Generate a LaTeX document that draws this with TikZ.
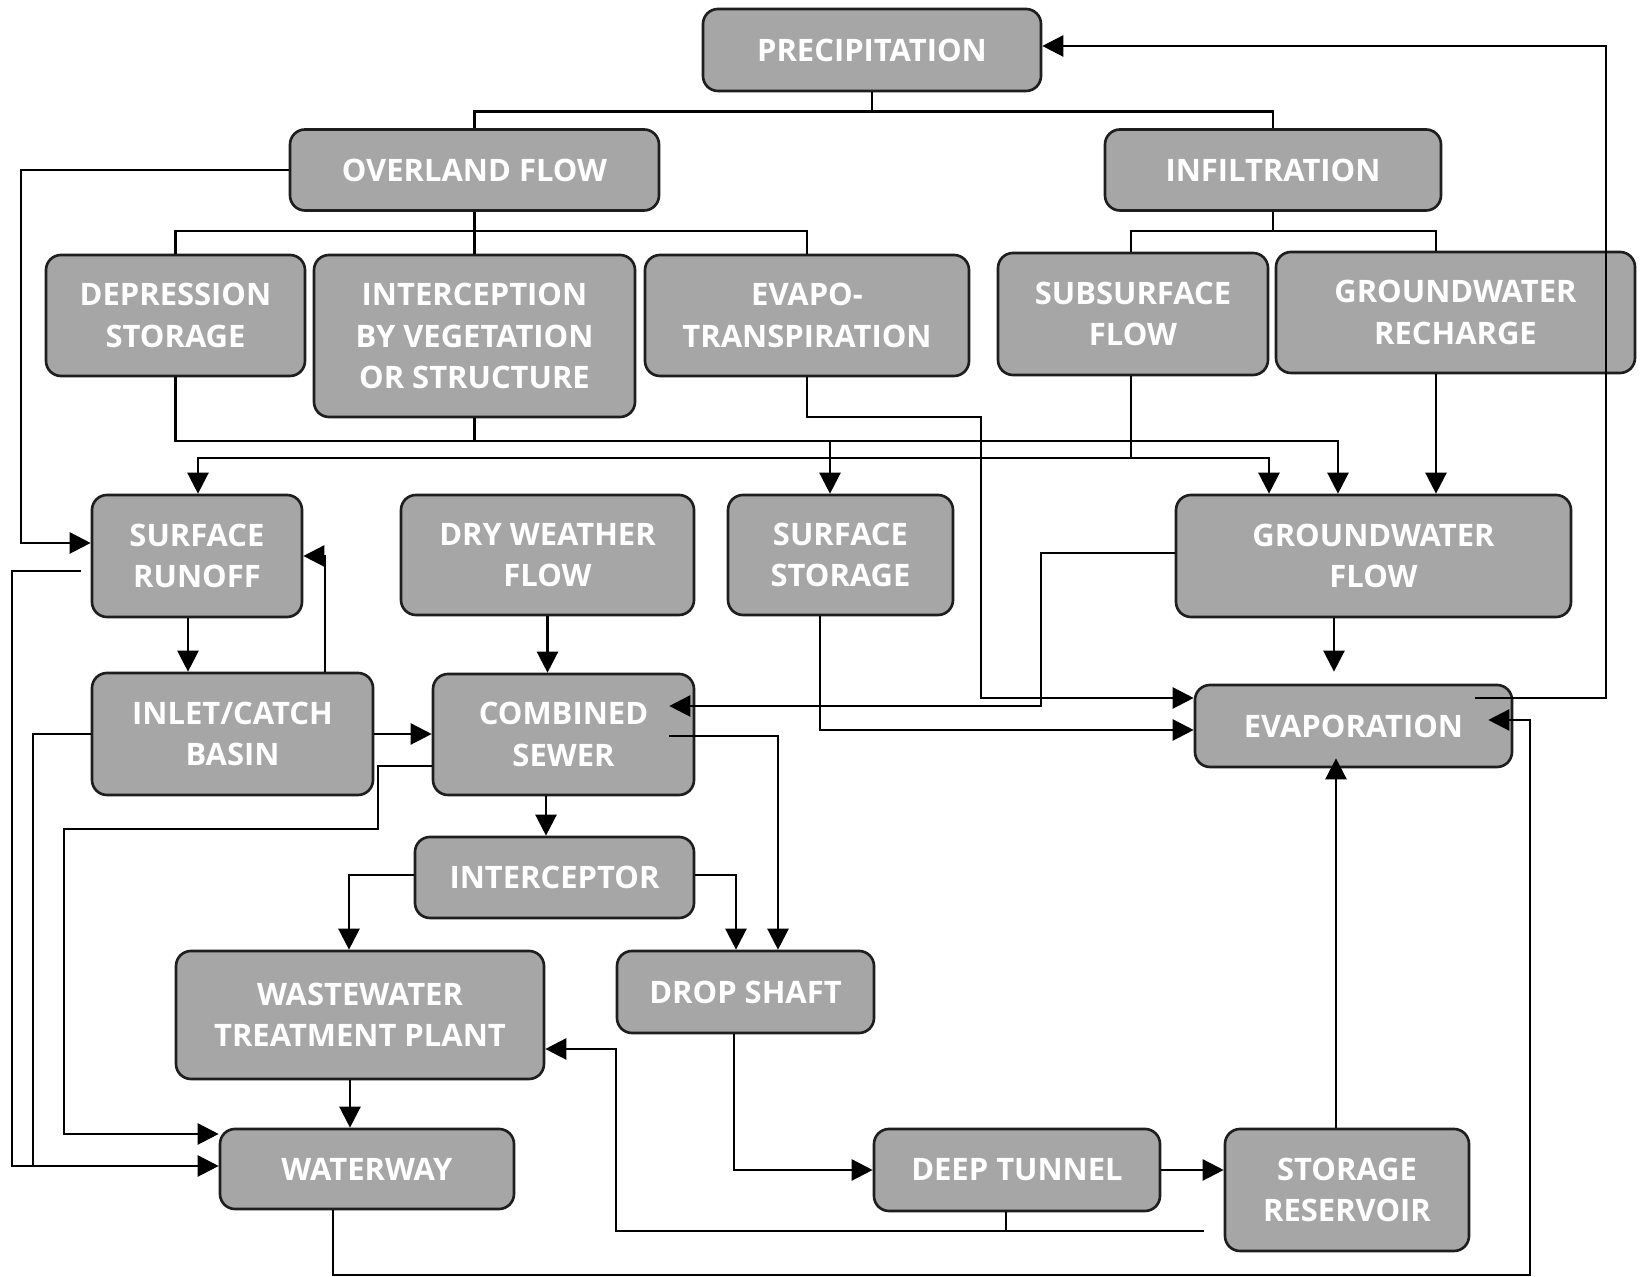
\documentclass[tikz,border=0pt]{standalone}
\usepackage{fontspec}
\newfontfamily\flowfont{Open Sans}
\usetikzlibrary{arrows.meta,calc}

\definecolor{boxgray}{RGB}{166,166,166}
\definecolor{boxline}{RGB}{30,30,30}

\tikzset{
  proc/.style={draw=boxline, fill=boxgray, rounded corners=0.15cm, line width=0.75pt,
    text=white, font=\flowfont\bfseries\fontsize{8.8}{11.8}\selectfont,
    align=center, inner sep=0pt},
  boxdim/.style 2 args={minimum width=#1*0.01cm, minimum height=#2*0.01cm},
  flow/.style={line width=0.7pt},
  flowarr/.style={flow, -{Triangle[length=6pt,width=6pt]}}
}

\begin{document}
\begin{tikzpicture}[x=0.01cm, y=-0.01cm]
    \path[use as bounding box, fill=white] (0,0) rectangle (1641,1277);

    \node[proc, boxdim={338}{82}] (precip) at (872,50) {PRECIPITATION};

    \node[proc, boxdim={369}{81}] (overland) at (474.5,170) {OVERLAND FLOW};
    \node[proc, boxdim={336}{81}] (infil) at (1273,170) {INFILTRATION};

    \node[proc, boxdim={259}{121}] (depress) at (175.5,315.5) {DEPRESSION\\STORAGE};
    \node[proc, boxdim={321}{162}] (intercept) at (474.5,336) {INTERCEPTION\\BY VEGETATION\\OR STRUCTURE};
    \node[proc, boxdim={324}{121}] (evapotr) at (807,315.5) {EVAPO-\\TRANSPIRATION};
    \node[proc, boxdim={270}{122}] (subsurf) at (1133,314) {SUBSURFACE\\FLOW};
    \node[proc, boxdim={359}{121}] (gwrech) at (1455.5,312.5) {GROUNDWATER\\RECHARGE};

    \node[proc, boxdim={210}{122}] (runoff) at (197,556) {SURFACE\\RUNOFF};
    \node[proc, boxdim={293}{120}] (dryflow) at (547.5,555) {DRY WEATHER\\FLOW};
    \node[proc, boxdim={225}{120}] (sstore) at (840.5,555) {SURFACE\\STORAGE};
    \node[proc, boxdim={395}{122}] (gwflow) at (1373.5,556) {GROUNDWATER\\FLOW};

    \node[proc, boxdim={281}{122}] (inlet) at (232.5,734) {INLET/CATCH\\BASIN};
    \node[proc, boxdim={261}{121}] (combined) at (563.5,734.5) {COMBINED\\SEWER};
    \node[proc, boxdim={317}{82}] (evap) at (1353.5,726) {EVAPORATION};

    \node[proc, boxdim={279}{81}] (intcp) at (554.5,877.5) {INTERCEPTOR};
    \node[proc, boxdim={368}{128}] (wwtp) at (360,1015) {WASTEWATER\\TREATMENT PLANT};
    \node[proc, boxdim={257}{82}] (dropshaft) at (745.5,992) {DROP SHAFT};

    \node[proc, boxdim={294}{80}] (waterway) at (367,1169) {WATERWAY};
    \node[proc, boxdim={286}{82}] (tunnel) at (1017,1170) {DEEP TUNNEL};
    \node[proc, boxdim={244}{122}] (reservoir) at (1347,1190) {STORAGE\\RESERVOIR};

    \draw[flow] (precip.south) -- ++(0,19) coordinate (b1);
    \draw[flow] (overland.north) |- (b1) -| (infil.north);

    \draw[flow] (overland.south) -- ++(0,19) coordinate (b2);
    \draw[flow] (depress.north) |- (b2) -| (evapotr.north);
    \draw[flow] (b2) -- (intercept.north);

    \draw[flow] (infil.south) -- ++(0,19) coordinate (b3);
    \draw[flow] (1131,0 |- subsurf.north) |- (b3) -| (1436,0 |- gwrech.north);

    \draw[flowarr] (overland.west) -| (21,543) -- (runoff.west |- 0,543);

    \coordinate (b4) at (1338,441);
    \draw[flowarr] (depress.south) |- (b4) -- (b4 |- gwflow.north);
    \draw[flow] (intercept.south) -- (intercept.south |- b4);
    \draw[flowarr] (830,0 |- b4) -- (830,0 |- sstore.north);

    \draw[flowarr] (evapotr.south) |- (981,417) |- (evap.west |- 0,698);

    \draw[flow] (1131,0 |- subsurf.south) -- (1131,458) coordinate (b5);
    \draw[flowarr] (b5) -| (198,0 |- runoff.north);
    \draw[flowarr] (b5) -| (1269,0 |- gwflow.north);
    \draw[flowarr] (1436,0 |- gwrech.south) -- (1436,0 |- gwflow.north);

    \draw[flowarr] (188,0 |- runoff.south) -- (188,0 |- inlet.north);
    \draw[flowarr] (325,0 |- inlet.north) |- (runoff.east);
    \draw[flowarr, shorten <=0.1cm] (runoff.west |- 0,571) -| (12,1166) -- (waterway.west |- 0,1166);
    \draw[flow] (inlet.west) -| (33,1166);
    \draw[flowarr] (combined.west |- 0,766) -| (378,829) -| (64,1134) -- (waterway.west |- 0,1134);
    \draw[flowarr] (inlet.east) -- (combined.west |- inlet.east);

    \draw[flowarr] (dryflow.south) -- (dryflow.south |- combined.north);
    \draw[flowarr] (546,0 |- combined.south) -- (546,0 |- intcp.north);
    \draw[flowarr, shorten >=-0.26cm] (gwflow.west |- 0,553) -| (1041,706) -- (combined.east |- 0,706);
    \draw[flowarr, shorten <=-0.26cm] (combined.east |- 0,736) -| (778,0 |- dropshaft.north);

    \draw[flowarr] (820,0 |- sstore.south) |- (evap.west |- 0,730);
    \draw[flowarr, shorten >=0.12cm] (1334,0 |- gwflow.south) -- (1334,0 |- evap.north);
    \draw[flowarr, shorten <=-0.38cm] (evap.east |- 0,698) -| (1606,46) -- (precip.east |- 0,46);
    \draw[flowarr, shorten >=-0.25cm] (333,0 |- waterway.south) |- (1530,1275) |- (evap.east |- 0,720);

    \draw[flowarr] (intcp.west |- 0,875) -| (349,0 |- wwtp.north);
    \draw[flowarr] (intcp.east |- 0,875) -| (736,0 |- dropshaft.north);
    \draw[flowarr] (350,0 |- wwtp.south) -- (350,0 |- waterway.north);
    \draw[flowarr] (734,0 |- dropshaft.south) |- (tunnel.west);
    \draw[flowarr] (tunnel.east) -- (reservoir.west |- tunnel.east);

    \draw[flow] (1006,0 |- tunnel.south) -- (1006,1231);
    \draw[flowarr, shorten <=0.2cm] (reservoir.west |- 0,1231) -| (616,1049) -- (wwtp.east |- 0,1049);
    \draw[flowarr, shorten >=-0.1cm] (1336,0 |- reservoir.north) -- (1336,0 |- evap.south);
\end{tikzpicture}
\end{document}
